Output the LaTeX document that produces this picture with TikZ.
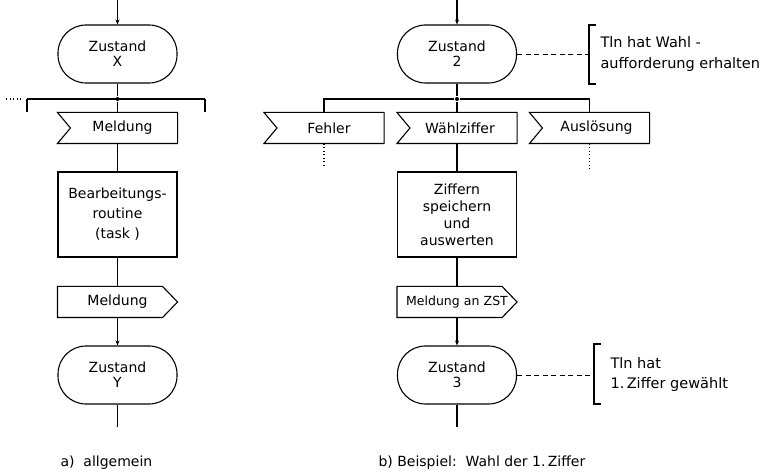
\documentclass[tikz,border=0pt]{standalone}
\usepackage{fontspec}
\setmainfont{DejaVu Sans}
\usetikzlibrary{arrows.meta,calc}
\newcommand\recvout[1]{\draw (#1.north west) -- (#1.north east) -- (#1.south east) -- (#1.south west) -- ($(#1.west)+(13,0)$) -- cycle;}
\newcommand\sendout[1]{\draw (#1.north west) -- ($(#1.north east)+(-15,0)$) -- (#1.east) -- ($(#1.south east)+(-15,0)$) -- (#1.south west) -- cycle;}
\begin{document}
\begin{tikzpicture}[x=1pt,y=-1pt, line width=1.1pt,
  every node/.style={font=\fontsize{14}{15}\selectfont},
  state/.style={draw, rounded corners=28pt, minimum width=119pt, minimum height=58pt, align=center, inner sep=0pt},
  msgbox/.style={minimum width=119pt, minimum height=30pt, inner sep=0pt, text width=119pt, align=center},
  proc/.style={draw, minimum width=119pt, minimum height=85pt, align=center, inner sep=0pt},
  arr/.style={-{Stealth[length=5pt,width=4pt]}},
  bdot/.style={circle, fill, inner sep=0pt, minimum size=4pt},
  anno/.style={line width=0.9pt, dash pattern=on 5pt off 3.5pt},
  dots/.style={dash pattern=on 1pt off 2.5pt},
  note/.style={anchor=west, align=left, inner sep=0pt}
]
\useasboundingbox (0,0) rectangle (764,473);

% ---------- a) allgemein ----------
\coordinate (tL) at (117.5,0);
\node[state] (zx) at (117.5,54) {Zustand\\X};
\node[bdot] (bL) at (117.5,99) {};
\coordinate (lL) at (27,99);
\coordinate (rL) at (205,99);
\node[msgbox] (m1) at (117.5,128) {\hspace*{10pt}Meldung};
\recvout{m1}
\node[proc, font=\fontsize{14}{20}\selectfont] (task) at (117.5,214.5) {Bearbeitungs-\\routine\\(task )};
\node[msgbox] (m2) at (117.5,302) {Meldung\hspace*{6pt}};
\sendout{m2}
\node[state] (zy) at (117.5,375) {Zustand\\Y};
\coordinate (eL) at (117.5,427);

\draw[arr] (tL) -- (zx.north);
\draw (zx.south) -- (bL);
\draw (lL) -- (rL);
\draw (lL) -- ++(0,13);
\draw (rL) -- ++(0,13);
\draw[dots] (6,99) -- (22,99);
\draw (bL) -- (m1.north);
\draw (m1.south) -- (task.north);
\draw (task.south) -- (m2.north);
\draw[arr] (m2.south) -- (zy.north);
\draw (zy.south) -- (eL);

\node[anchor=west, inner sep=0pt] (capa) at (60,463) {a)\ \ allgemein};

% ---------- b) Beispiel ----------
\coordinate (tR) at (457,0);
\node[state] (z2) at (457,54) {Zustand\\2};
\node[bdot] (bR) at (457,99) {};
\node[msgbox] (fe) at (324,128) {\hspace*{10pt}Fehler};
\recvout{fe}
\node[msgbox] (wz) at (457,128) {\hspace*{6pt}Wählziffer};
\recvout{wz}
\node[msgbox] (au) at (589.5,128) {\hspace*{14pt}Auslösung};
\recvout{au}
\node[proc, font=\fontsize{14}{17}\selectfont] (zif) at (457,214.5) {Ziffern\\speichern\\und\\auswerten};
\node[msgbox, font=\fontsize{12.5}{14}\selectfont] (mz) at (457,302) {Meldung an ZST\hspace*{2pt}};
\sendout{mz}
\node[state] (z3) at (457,375) {Zustand\\3};
\coordinate (eR) at (457,427);

\draw[arr] (tR) -- (z2.north);
\draw (z2.south) -- (bR);
\draw (fe.north) |- (bR) -| (au.north);
\draw (bR) -- (wz.north);
\draw[dots] (fe.south) -- ++(0,22);
\draw[dots] (au.south) -- ++(0,27);
\draw (wz.south) -- (zif.north);
\draw (zif.south) -- (mz.north);
\draw[arr] (mz.south) -- (z3.north);
\draw (z3.south) -- (eR);

% annotations
\coordinate (br1) at (589,54);
\draw[anno] (z2.east) -- (br1);
\draw ($(br1)+(7,-29)$) -- ($(br1)+(0,-29)$) -- ($(br1)+(0,30)$) -- ($(br1)+(7,30)$);
\node[note, font=\fontsize{14.5}{21}\selectfont] (n1) at (600,54) {Tln hat Wahl -\\aufforderung erhalten};

\coordinate (br2) at (594,375);
\draw[anno] (z3.east) -- (br2);
\draw ($(br2)+(7,-31)$) -- ($(br2)+(0,-31)$) -- ($(br2)+(0,29)$) -- ($(br2)+(7,29)$);
\node[note, font=\fontsize{14.5}{20}\selectfont] (n2) at (610,374) {Tln hat\\1.\,Ziffer gewählt};

\node[anchor=west, inner sep=0pt] (capb) at (378,463) {b)\ Beispiel:\ \ Wahl der 1.\,Ziffer};
\end{tikzpicture}
\end{document}
